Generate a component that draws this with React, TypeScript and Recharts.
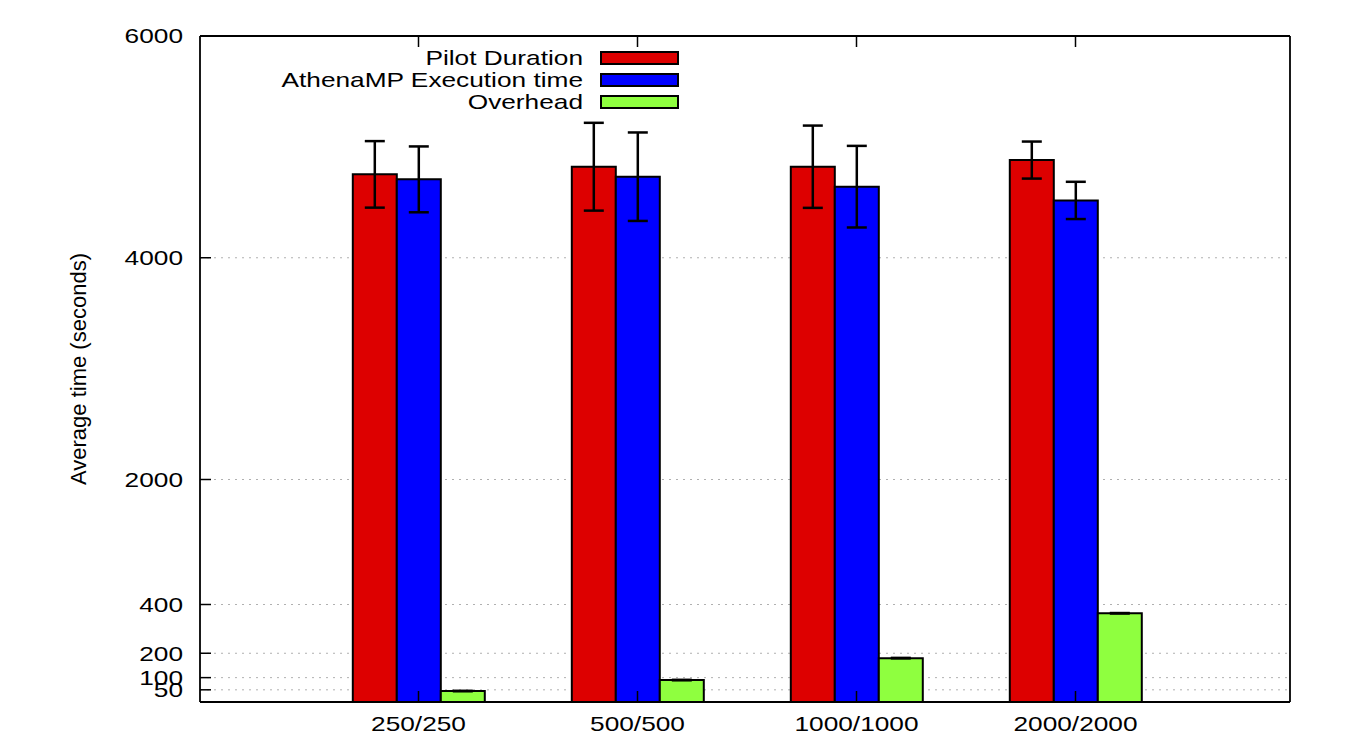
import React from "react";
import {
  BarChart,
  Bar,
  XAxis,
  YAxis,
  CartesianGrid,
  ErrorBar,
  Legend,
} from "recharts";

const categories = ["250/250", "500/500", "1000/1000", "2000/2000"];
const seriesNames = ["Pilot Duration", "AthenaMP Execution time", "Overhead"];
const pilotDuration = [4752, 4821, 4821, 4881];
const pilotDurationErr = [300, 396, 371, 167];
const athenaExec = [4707, 4731, 4641, 4517];
const athenaExecErr = [297, 399, 368, 168];
const overhead = [45, 90, 180, 364];
const overheadErr = [2, 2, 2, 2];
const yTickValues = [50, 100, 200, 400, 2000, 4000, 6000];

// the y axis is piecewise linear: [value, position]
const axisBreaks = [
  [0, 0],
  [400, 97.5],
  [2000, 222.5],
  [6000, 666],
];

const warp = (v: number) => {
  for (let i = 1; i < axisBreaks.length; i++) {
    const [v0, p0] = axisBreaks[i - 1];
    const [v1, p1] = axisBreaks[i];
    if (v <= v1 || i === axisBreaks.length - 1) {
      return p0 + ((v - v0) * (p1 - p0)) / (v1 - v0);
    }
  }
  return 0;
};

const errRange = (v: number, e: number) => [warp(v) - warp(v - e), warp(v + e) - warp(v)];

const data = categories.map((name, i) => ({
  name,
  pilot: warp(pilotDuration[i]),
  pilotErr: errRange(pilotDuration[i], pilotDurationErr[i]),
  athena: warp(athenaExec[i]),
  athenaErr: errRange(athenaExec[i], athenaExecErr[i]),
  overhead: warp(overhead[i]),
  overheadErr: errRange(overhead[i], overheadErr[i]),
}));

const FONT = "'Liberation Sans', Arial, Helvetica, sans-serif";
const STRETCH = 1.25;
const FONT_SIZE = 21;
const TICK_LEN = 11;
const Y_MARGIN = 17;
const X_MARGIN = 14;
const AXIS = { stroke: "#000", strokeWidth: 1.8 };

const tickLabel = (value: number) => {
  const hit = yTickValues.find((v) => Math.abs(warp(v) - value) < 1e-6);
  return hit === undefined ? "" : String(hit);
};

const StretchText = ({ x, y, anchor, children, size = FONT_SIZE, dy = "0.35em" }: any) => (
  <text
    transform={`translate(${x},${y}) scale(${STRETCH},1)`}
    textAnchor={anchor}
    dy={dy}
    fontSize={size}
    fontFamily={FONT}
    fill="#000"
  >
    {children}
  </text>
);

const LeftTick = ({ x, y, payload }: any) => (
  <g>
    <line x1={x + Y_MARGIN} x2={x + Y_MARGIN + TICK_LEN} y1={y} y2={y} stroke="#000" strokeWidth={1.5} />
    <StretchText x={x} y={y} anchor="end">
      {tickLabel(payload.value)}
    </StretchText>
  </g>
);

const RightTick = ({ x, y }: any) => (
  <line x1={x - 2} x2={x - 2 - TICK_LEN} y1={y} y2={y} stroke="#000" strokeWidth={1.5} />
);

const BottomTick = ({ x, y, payload }: any) => (
  <g>
    <line x1={x} x2={x} y1={y - X_MARGIN} y2={y - X_MARGIN - TICK_LEN} stroke="#000" strokeWidth={1.5} />
    <StretchText x={x} y={y + 15} anchor="middle" dy={0}>
      {payload.value}
    </StretchText>
  </g>
);

const TopTick = ({ x, y }: any) => (
  <line x1={x} x2={x} y1={y + 2} y2={y + 2 + TICK_LEN} stroke="#000" strokeWidth={1.5} />
);

const YTitle = (props: any) => {
  const { viewBox } = props;
  const cx = viewBox.x + 8;
  const cy = viewBox.y + viewBox.height / 2;
  return (
    <text
      transform={`translate(${cx},${cy}) rotate(-90)`}
      textAnchor="middle"
      dy="0.35em"
      fontSize={22}
      fontFamily={FONT}
      fill="#000"
    >
      Average time (seconds)
    </text>
  );
};

const LegendBox = ({ payload }: any) => {
  const items = [...(payload || [])].sort(
    (a: any, b: any) => seriesNames.indexOf(a.value) - seriesNames.indexOf(b.value)
  );
  return (
    <svg width={700} height={120}>
      {items.map((entry: any, i: number) => {
        const cy = 58 + i * 22;
        return (
          <g key={entry.value}>
            <StretchText x={583} y={cy} anchor="end">
              {entry.value}
            </StretchText>
            <rect
              x={601}
              y={cy - 6}
              width={77}
              height={12}
              fill={entry.payload?.fill ?? entry.color}
              stroke="#000"
              strokeWidth={2}
            />
          </g>
        );
      })}
    </svg>
  );
};

export default function App() {
  const yTicks = yTickValues.map(warp);
  const yDomain = [0, warp(6000)];
  const pad = { left: 109, right: 105 };
  return (
    <div style={{ position: "absolute", left: 0, top: 0, width: 1346, height: 735, background: "#fff" }}>
      <BarChart
        width={1346}
        height={735}
        data={data}
        margin={{ top: 30, right: 36, left: 70, bottom: 0 }}
        barCategoryGap="20%"
        barGap={0}
      >
        <CartesianGrid
          yAxisId="left"
          xAxisId="bottom"
          vertical={false}
          stroke="#b0b0b0"
          strokeDasharray="2 5"
        />
        <XAxis
          xAxisId="bottom"
          dataKey="name"
          type="category"
          padding={pad}
          height={33}
          tickSize={0}
          tickMargin={X_MARGIN}
          axisLine={AXIS}
          tickLine={false}
          tick={<BottomTick />}
          interval={0}
        />
        <XAxis
          xAxisId="top"
          orientation="top"
          dataKey="name"
          type="category"
          padding={pad}
          height={6}
          tickSize={0}
          tickMargin={2}
          axisLine={AXIS}
          tickLine={false}
          tick={<TopTick />}
          interval={0}
        />
        <YAxis
          yAxisId="left"
          type="number"
          domain={yDomain}
          ticks={yTicks}
          interval={0}
          width={130}
          tickSize={0}
          tickMargin={Y_MARGIN}
          axisLine={AXIS}
          tickLine={false}
          tick={<LeftTick />}
          label={YTitle}
        />
        <YAxis
          yAxisId="right"
          orientation="right"
          type="number"
          domain={yDomain}
          ticks={yTicks}
          interval={0}
          width={20}
          tickSize={0}
          tickMargin={2}
          axisLine={AXIS}
          tickLine={false}
          tick={<RightTick />}
        />
        <Legend
          layout="horizontal"
          verticalAlign="middle"
          align="center"
          content={<LegendBox />}
          wrapperStyle={{ left: 0, top: 0, width: 700, height: 120 }}
        />
        <Bar
          xAxisId="bottom"
          yAxisId="left"
          dataKey="pilot"
          name={seriesNames[0]}
          fill="#dd0000"
          stroke="#000"
          strokeWidth={2}
          isAnimationActive={false}
        >
          <ErrorBar dataKey="pilotErr" direction="y" width={10} stroke="#000" strokeWidth={2.5} isAnimationActive={false} />
        </Bar>
        <Bar
          xAxisId="bottom"
          yAxisId="left"
          dataKey="athena"
          name={seriesNames[1]}
          fill="#0000ff"
          stroke="#000"
          strokeWidth={2}
          isAnimationActive={false}
        >
          <ErrorBar dataKey="athenaErr" direction="y" width={10} stroke="#000" strokeWidth={2.5} isAnimationActive={false} />
        </Bar>
        <Bar
          xAxisId="bottom"
          yAxisId="left"
          dataKey="overhead"
          name={seriesNames[2]}
          fill="#8fff3f"
          stroke="#000"
          strokeWidth={2}
          isAnimationActive={false}
        >
          <ErrorBar dataKey="overheadErr" direction="y" width={10} stroke="#000" strokeWidth={2} isAnimationActive={false} />
        </Bar>
      </BarChart>
    </div>
  );
}
